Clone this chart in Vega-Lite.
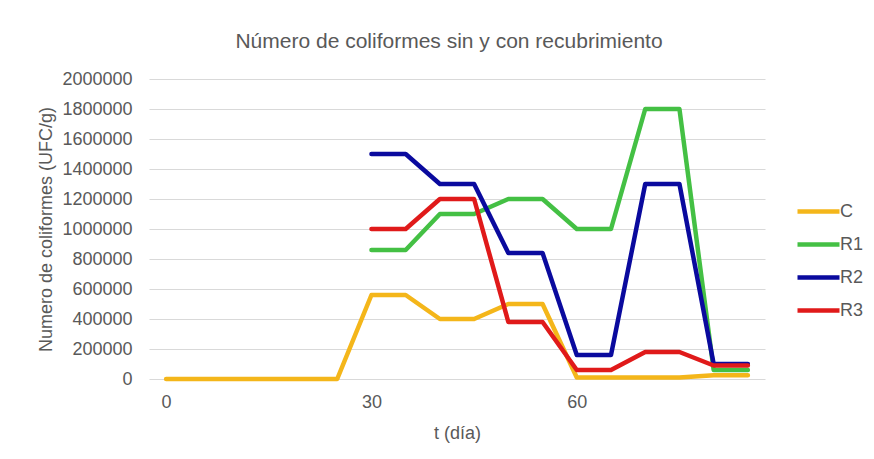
{
  "$schema": "https://vega.github.io/schema/vega-lite/v6.json",
  "autosize": {"type": "none"},
  "width": 616,
  "height": 300,
  "padding": {"left": 149, "top": 79, "right": 109, "bottom": 80},
  "background": "white",
  "title": {
    "text": "Número de coliformes sin y con recubrimiento",
    "font": "Liberation Sans",
    "fontSize": 21,
    "fontWeight": "normal",
    "color": "#595959",
    "anchor": "middle",
    "frame": "group",
    "baseline": "alphabetic",
    "offset": 30,
    "dy": 29,
    "dx": -8
  },
  "config": {
    "view": {"stroke": null},
    "font": "Liberation Sans"
  },
  "data": {
    "values": [
      {"t": 0, "serie": "C", "n": 0},
      {"t": 5, "serie": "C", "n": 0},
      {"t": 10, "serie": "C", "n": 0},
      {"t": 15, "serie": "C", "n": 0},
      {"t": 20, "serie": "C", "n": 0},
      {"t": 25, "serie": "C", "n": 0},
      {"t": 30, "serie": "C", "n": 560000},
      {"t": 35, "serie": "C", "n": 560000},
      {"t": 40, "serie": "C", "n": 400000},
      {"t": 45, "serie": "C", "n": 400000},
      {"t": 50, "serie": "C", "n": 500000},
      {"t": 55, "serie": "C", "n": 500000},
      {"t": 60, "serie": "C", "n": 10000},
      {"t": 65, "serie": "C", "n": 10000},
      {"t": 70, "serie": "C", "n": 10000},
      {"t": 75, "serie": "C", "n": 10000},
      {"t": 80, "serie": "C", "n": 25000},
      {"t": 85, "serie": "C", "n": 25000},
      {"t": 30, "serie": "R1", "n": 860000},
      {"t": 35, "serie": "R1", "n": 860000},
      {"t": 40, "serie": "R1", "n": 1100000},
      {"t": 45, "serie": "R1", "n": 1100000},
      {"t": 50, "serie": "R1", "n": 1200000},
      {"t": 55, "serie": "R1", "n": 1200000},
      {"t": 60, "serie": "R1", "n": 1000000},
      {"t": 65, "serie": "R1", "n": 1000000},
      {"t": 70, "serie": "R1", "n": 1800000},
      {"t": 75, "serie": "R1", "n": 1800000},
      {"t": 80, "serie": "R1", "n": 60000},
      {"t": 85, "serie": "R1", "n": 60000},
      {"t": 30, "serie": "R2", "n": 1500000},
      {"t": 35, "serie": "R2", "n": 1500000},
      {"t": 40, "serie": "R2", "n": 1300000},
      {"t": 45, "serie": "R2", "n": 1300000},
      {"t": 50, "serie": "R2", "n": 840000},
      {"t": 55, "serie": "R2", "n": 840000},
      {"t": 60, "serie": "R2", "n": 160000},
      {"t": 65, "serie": "R2", "n": 160000},
      {"t": 70, "serie": "R2", "n": 1300000},
      {"t": 75, "serie": "R2", "n": 1300000},
      {"t": 80, "serie": "R2", "n": 100000},
      {"t": 85, "serie": "R2", "n": 100000},
      {"t": 30, "serie": "R3", "n": 1000000},
      {"t": 35, "serie": "R3", "n": 1000000},
      {"t": 40, "serie": "R3", "n": 1200000},
      {"t": 45, "serie": "R3", "n": 1200000},
      {"t": 50, "serie": "R3", "n": 380000},
      {"t": 55, "serie": "R3", "n": 380000},
      {"t": 60, "serie": "R3", "n": 60000},
      {"t": 65, "serie": "R3", "n": 60000},
      {"t": 70, "serie": "R3", "n": 180000},
      {"t": 75, "serie": "R3", "n": 180000},
      {"t": 80, "serie": "R3", "n": 90000},
      {"t": 85, "serie": "R3", "n": 90000}
    ]
  },
  "mark": {"type": "line", "strokeWidth": 4.5, "strokeCap": "round", "strokeJoin": "round"},
  "encoding": {
    "x": {
      "field": "t",
      "type": "quantitative",
      "scale": {"domain": [-2.5, 87.5], "nice": false, "zero": false},
      "axis": {
        "values": [0, 30, 60],
        "grid": false,
        "ticks": false,
        "domain": false,
        "labelFontSize": 18,
        "labelColor": "#595959",
        "labelPadding": 14,
        "title": "t (día)",
        "titleFontSize": 18,
        "titleFontWeight": "normal",
        "titleColor": "#595959",
        "titleBaseline": "alphabetic",
        "titleY": 59,
        "titleX": 308,
        "titleAlign": "center"
      }
    },
    "y": {
      "field": "n",
      "type": "quantitative",
      "scale": {"domain": [0, 2000000], "nice": false},
      "axis": {
        "values": [0, 200000, 400000, 600000, 800000, 1000000, 1200000, 1400000, 1600000, 1800000, 2000000],
        "format": "d",
        "grid": true,
        "gridColor": "#d9d9d9",
        "gridWidth": 1,
        "ticks": false,
        "domain": false,
        "labelFontSize": 18,
        "labelColor": "#595959",
        "labelPadding": 17,
        "title": "Numero de coliformes (UFC/g)",
        "titleFontSize": 18,
        "titleFontWeight": "normal",
        "titleColor": "#595959",
        "titleAngle": 270,
        "titleAlign": "center",
        "titleBaseline": "middle",
        "titleX": -103,
        "titleY": 150
      }
    },
    "color": {
      "field": "serie",
      "type": "nominal",
      "scale": {"domain": ["C", "R1", "R2", "R3"], "range": ["#F4B61A", "#44C044", "#0A0A9E", "#E01A1A"]},
      "legend": {
        "title": null,
        "orient": "none",
        "legendX": 646,
        "legendY": 109,
        "symbolType": "stroke",
        "symbolSize": 1764,
        "symbolStrokeWidth": 4.5,
        "labelFontSize": 18,
        "labelColor": "#595959",
        "labelOffset": -2,
        "rowPadding": 0
      }
    }
  }
}
